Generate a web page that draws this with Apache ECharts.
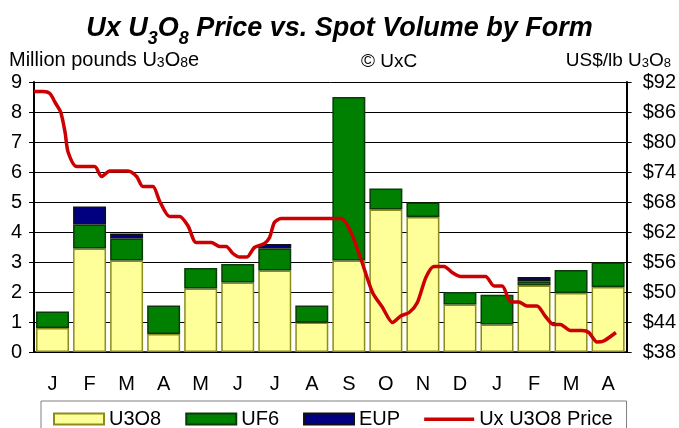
<!DOCTYPE html>
<html>
<head>
<meta charset="utf-8">
<script src="https://cdn.jsdelivr.net/npm/echarts@6/dist/echarts.min.js"></script>
<style>
  html, body { margin: 0; padding: 0; background: #fff; }
  #chart { width: 679px; height: 428px; }
</style>
</head>
<body>
<div id="chart"></div>
<script>
// months shown on the x axis
const months = ['J', 'F', 'M', 'A', 'M', 'J', 'J', 'A', 'S', 'O', 'N', 'D', 'J', 'F', 'M', 'A']

// spot volume by form, million pounds U3O8e
const u3o8 = [0.8, 3.45, 3.05, 0.6, 2.12, 2.32, 2.72, 0.98, 3.05, 4.75, 4.5, 1.58, 0.92, 2.22, 1.97, 2.17]
const uf6 = [0.55, 0.8, 0.73, 0.95, 0.68, 0.61, 0.73, 0.57, 5.45, 0.7, 0.48, 0.42, 0.99, 0.13, 0.76, 0.81]
const eup = [0, 0.6, 0.17, 0, 0, 0, 0.15, 0, 0, 0, 0, 0, 0, 0.15, 0, 0]

// Ux U3O8 price, US$/lb; time in months from the start of the chart
const priceT = [0, 0.25, 0.43, 0.57, 0.72, 0.84, 0.92, 1.15, 1.64, 1.82, 2.05, 2.54, 2.77, 2.94, 3.21,
  3.39, 3.66, 3.93, 4.16, 4.38, 4.79, 5.01, 5.19, 5.37, 5.55, 5.75, 5.95, 6.22, 6.36, 6.49, 6.67,
  8.29, 8.56, 8.83, 9.14, 9.41, 9.68, 9.9, 10.13, 10.35, 10.58, 10.8, 11.07, 11.29, 11.52, 12.19,
  12.42, 12.64, 12.87, 13.09, 13.31, 13.58, 13.81, 14.03, 14.21, 14.48, 14.8, 14.98, 15.2, 15.38, 15.71]
const priceUsd = [90.1, 90.1, 89.7, 87.9, 86, 81.9, 78, 75.1, 75.1, 73.1, 74.2, 74.2, 73.1, 71.1, 71.1,
  68.2, 65.1, 65.1, 63.2, 59.9, 59.9, 59.1, 59.1, 57.7, 57, 57, 58.9, 59.7, 60.9, 63.9, 64.7,
  64.7, 61.9, 56.5, 49.9, 46.9, 43.9, 45.2, 45.9, 47.9, 52.9, 55.1, 55.1, 53.9, 53.1, 53.1,
  51.2, 51.2, 48, 48, 47.2, 47.2, 45.1, 43.5, 43.5, 42.3, 42.3, 41.9, 40, 40.2, 41.9]

// price axis ticks
const priceMin = 38
const priceMax = 92
const priceStep = 6

const FONT = "'Liberation Sans', Arial, sans-serif"

const chart = echarts.init(document.getElementById('chart'))

const noZero = arr => arr.map(v => (v === 0 ? '-' : v))

// small-digit text (U3O8) for the axis captions
const caption = size => ({
  t: { fontFamily: FONT, fontSize: size, fontWeight: 'normal', color: '#000', lineHeight: 20, verticalAlign: 'bottom' },
  s: { fontFamily: FONT, fontSize: size - 6, fontWeight: 'normal', color: '#000', lineHeight: 20, verticalAlign: 'bottom' }
})

const option = {
  animation: false,
  textStyle: { fontFamily: FONT, color: '#000' },
  title: [
    {
      text: '{t|Ux U}{s|3}{t|O}{s|8}{t| Price vs. Spot Volume by Form}',
      left: 'center',
      top: 7,
      textStyle: {
        rich: {
          t: { fontFamily: FONT, fontSize: 27, fontWeight: 'bold', fontStyle: 'italic', color: '#000', lineHeight: 30, verticalAlign: 'bottom' },
          s: { fontFamily: FONT, fontSize: 18, fontWeight: 'bold', fontStyle: 'italic', color: '#000', lineHeight: 30, verticalAlign: 'bottom', padding: [0, 0, -6, 0] }
        }
      }
    },
    {
      text: '{t|Million pounds U}{s|3}{t|O}{s|8}{t|e}',
      left: 4,
      top: 45,
      textStyle: { fontWeight: 'normal', rich: caption(20) }
    },
    {
      text: '© UxC',
      left: 356,
      top: 47,
      textStyle: { fontFamily: FONT, fontSize: 19, fontWeight: 'normal', color: '#000' }
    },
    {
      text: '{t|US$/lb U}{s|3}{t|O}{s|8}',
      right: 3,
      top: 45,
      textStyle: { fontWeight: 'normal', rich: caption(19) }
    }
  ],
  legend: {
    left: 41,
    top: 401,
    padding: [8, 14, 12, 12],
    borderColor: '#808080',
    borderWidth: 1,
    itemGap: 24,
    itemWidth: 50,
    itemHeight: 11,
    textStyle: { fontFamily: FONT, fontSize: 20, color: '#000' },
    data: [
      { name: 'U3O8', icon: 'rect' },
      { name: 'UF6', icon: 'rect' },
      { name: 'EUP', icon: 'rect' },
      { name: 'Ux U3O8 Price', icon: 'path://M0,0L0,0M0,4L50,4L50,7.5L0,7.5ZM0,11L0,11' }
    ]
  },
  grid: { left: 34, right: 51, top: 82, bottom: 76 },
  xAxis: [
    {
      type: 'category',
      data: months,
      boundaryGap: true,
      axisLine: { lineStyle: { color: '#000', width: 1.5 } },
      axisTick: { length: 5, lineStyle: { color: '#000' } },
      axisLabel: { fontSize: 20, color: '#000', margin: 22 },
      splitLine: { show: false }
    },
    {
      type: 'value',
      min: 0,
      max: months.length,
      show: false
    }
  ],
  yAxis: [
    {
      type: 'value',
      min: 0,
      max: 9,
      interval: 1,
      axisLine: { show: true, lineStyle: { color: '#000', width: 2 } },
      axisTick: { show: true, length: 5, lineStyle: { color: '#000' } },
      axisLabel: { fontSize: 20, color: '#000', margin: 12 },
      splitLine: { lineStyle: { color: '#000', width: 1 } }
    },
    {
      type: 'value',
      position: 'right',
      min: 0,
      max: priceMax - priceMin,
      interval: priceStep,
      axisLine: { show: true, lineStyle: { color: '#000', width: 2 } },
      axisTick: { show: true, length: 5, lineStyle: { color: '#000' } },
      axisLabel: { fontSize: 20, color: '#000', margin: 16, formatter: v => '$' + (v + priceMin) },
      splitLine: { show: false }
    }
  ],
  series: [
    {
      name: 'U3O8',
      type: 'bar',
      stack: 'vol',
      data: noZero(u3o8),
      barCategoryGap: '11%',
      itemStyle: { color: '#FFFF99', borderColor: '#8C8C1E', borderWidth: 1.5 }
    },
    {
      name: 'UF6',
      type: 'bar',
      stack: 'vol',
      data: noZero(uf6),
      itemStyle: { color: '#008000', borderColor: '#0B3A0B', borderWidth: 1.5 }
    },
    {
      name: 'EUP',
      type: 'bar',
      stack: 'vol',
      data: noZero(eup),
      itemStyle: { color: '#000080', borderColor: '#111111', borderWidth: 1.5 }
    },
    {
      name: 'Ux U3O8 Price',
      type: 'line',
      xAxisIndex: 1,
      yAxisIndex: 1,
      data: priceT.map((t, i) => [t, priceUsd[i] - priceMin]),
      symbol: 'none',
      smooth: 0.25,
      z: 5,
      itemStyle: { color: '#CC0000' },
      lineStyle: { color: '#CC0000', width: 3.5 }
    }
  ]
}

chart.setOption(option)
</script>
</body>
</html>
